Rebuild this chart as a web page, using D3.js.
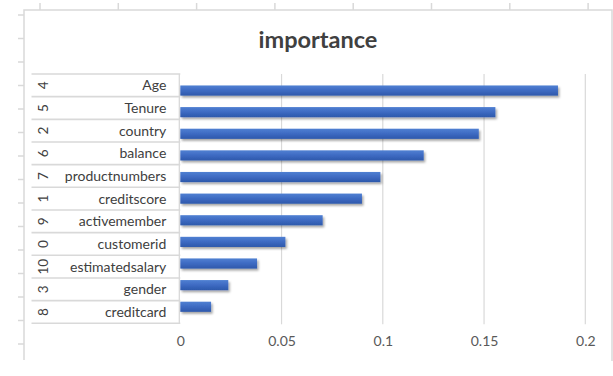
<!DOCTYPE html>
<html>
<head>
<meta charset="utf-8">
<script src="https://cdn.jsdelivr.net/npm/d3@7"></script>
<style>
  html, body { margin: 0; padding: 0; background: #fff; }
  svg { display: block; font-family: Lato, "Open Sans", sans-serif; }
</style>
</head>
<body>
<div id="chart"></div>
<script>
// data
var indices = ['4', '5', '2', '6', '7', '1', '9', '0', '10', '3', '8'];
var features = ['Age', 'Tenure', 'country', 'balance', 'productnumbers', 'creditscore',
    'activemember', 'customerid', 'estimatedsalary', 'gender', 'creditcard'];
var importance = [0.1865, 0.1556, 0.1474, 0.1202, 0.0988, 0.0897, 0.0703, 0.0519, 0.0379, 0.0237, 0.0152];
var xTicks = [0, 0.05, 0.1, 0.15, 0.2];

(function () {
    var W = 613, H = 376;
    var frame = { left: 24, top: 10, right: 612, bottom: 361 };
    var plot = { left: 180.3, right: 585.3, top: 74, bottom: 323.3 };
    var tableLeft = 31.5;

    var rows = features.map((f, i) => ({ idx: indices[i], name: f, value: importance[i] }));

    var svg = d3.select('#chart').append('svg')
        .attr('width', W)
        .attr('height', H);

    var defs = svg.append('defs');
    var grad = defs.append('linearGradient')
        .attr('id', 'barGrad')
        .attr('x1', 0).attr('y1', 0).attr('x2', 0).attr('y2', 1);
    grad.append('stop').attr('offset', '0%').attr('stop-color', '#5080d2');
    grad.append('stop').attr('offset', '45%').attr('stop-color', '#3f6cc4');
    grad.append('stop').attr('offset', '100%').attr('stop-color', '#2d58ab');
    var shadow = defs.append('filter').attr('id', 'shadow')
        .attr('x', '-5%').attr('y', '-30%').attr('width', '115%').attr('height', '190%');
    shadow.append('feDropShadow')
        .attr('dx', 1.5).attr('dy', 2).attr('stdDeviation', 1.2)
        .attr('flood-color', '#000').attr('flood-opacity', 0.35);

    //背景的試算表格線
    var sheet = svg.append('g').attr('stroke', '#d9d9d9').attr('stroke-width', 1.5);
    sheet.selectAll('line.top')
        .data(d3.range(8))
        .enter().append('line')
        .attr('x1', i => 40 + i * 78.3).attr('x2', i => 40 + i * 78.3)
        .attr('y1', 3).attr('y2', frame.top);
    sheet.selectAll('line.left')
        .data(d3.range(15))
        .enter().append('line')
        .attr('x1', 18).attr('x2', frame.left)
        .attr('y1', i => 15 + i * 23.5).attr('y2', i => 15 + i * 23.5);

    //圖表外框
    svg.append('path')
        .attr('d', `M${frame.left},360 V${frame.top} H${frame.right} V${frame.bottom}`)
        .attr('fill', 'none')
        .attr('stroke', '#d9d9d9')
        .attr('stroke-width', 1.5);

    //標題
    svg.append('text')
        .attr('x', (frame.left + frame.right) / 2)
        .attr('y', 48)
        .attr('text-anchor', 'middle')
        .attr('font-size', 23.5)
        .attr('font-weight', 'bold')
        .attr('fill', '#404040')
        .text('importance');

    var x = d3.scaleLinear().domain([0, 0.2]).range([plot.left, plot.right]);
    var y = d3.scaleBand().domain(features).range([plot.top, plot.bottom]).padding(0.53);
    var rowY = d3.scaleBand().domain(features).range([plot.top, plot.bottom]);

    //格線
    svg.append('g').selectAll('line')
        .data(xTicks.filter(t => t > 0))
        .enter().append('line')
        .attr('x1', d => x(d)).attr('x2', d => x(d))
        .attr('y1', plot.top).attr('y2', plot.bottom + 1)
        .attr('stroke', '#d9d9d9')
        .attr('stroke-width', 1.2);

    //X軸
    var axisG = svg.append('g')
        .attr('transform', `translate(0,${plot.bottom})`)
        .call(d3.axisBottom(x).tickValues(xTicks).tickFormat(d => String(d)).tickSize(0).tickPadding(13));
    axisG.select('.domain').remove();
    axisG.selectAll('text')
        .attr('font-family', 'Lato, "Open Sans", sans-serif')
        .attr('font-size', 14)
        .attr('fill', '#595959');

    //左側兩層分類表格
    var table = svg.append('g');
    var rowG = table.selectAll('g.row')
        .data(rows)
        .enter().append('g')
        .attr('class', 'row')
        .attr('transform', d => `translate(0,${rowY(d.name)})`);
    var step = rowY.step();
    rowG.append('line')
        .attr('x1', tableLeft).attr('x2', plot.left)
        .attr('y1', step).attr('y2', step)
        .attr('stroke', '#d9d9d9').attr('stroke-width', 1.6);
    rowG.append('line')
        .attr('x1', plot.left - 1).attr('x2', plot.left - 1)
        .attr('y1', 0).attr('y2', step)
        .attr('stroke', '#d9d9d9').attr('stroke-width', 1.3);
    rowG.append('text')
        .attr('x', plot.left - 14)
        .attr('y', step / 2)
        .attr('dy', '0.35em')
        .attr('text-anchor', 'end')
        .attr('font-size', 14)
        .attr('fill', '#404040')
        .text(d => d.name);
    rowG.append('text')
        .attr('transform', `translate(${tableLeft + 11.5},${step / 2}) rotate(-90)`)
        .attr('dy', '0.35em')
        .attr('text-anchor', 'middle')
        .attr('font-size', 13.5)
        .attr('fill', '#404040')
        .text(d => d.idx);
    table.append('line')
        .attr('x1', tableLeft).attr('x2', plot.left)
        .attr('y1', plot.top).attr('y2', plot.top)
        .attr('stroke', '#d9d9d9').attr('stroke-width', 1.6);

    //長條
    svg.append('g').selectAll('rect')
        .data(rows)
        .enter().append('rect')
        .attr('x', x(0))
        .attr('y', d => y(d.name))
        .attr('width', d => x(d.value) - x(0))
        .attr('height', y.bandwidth())
        .attr('fill', 'url(#barGrad)')
        .attr('filter', 'url(#shadow)');
})();
</script>
</body>
</html>
